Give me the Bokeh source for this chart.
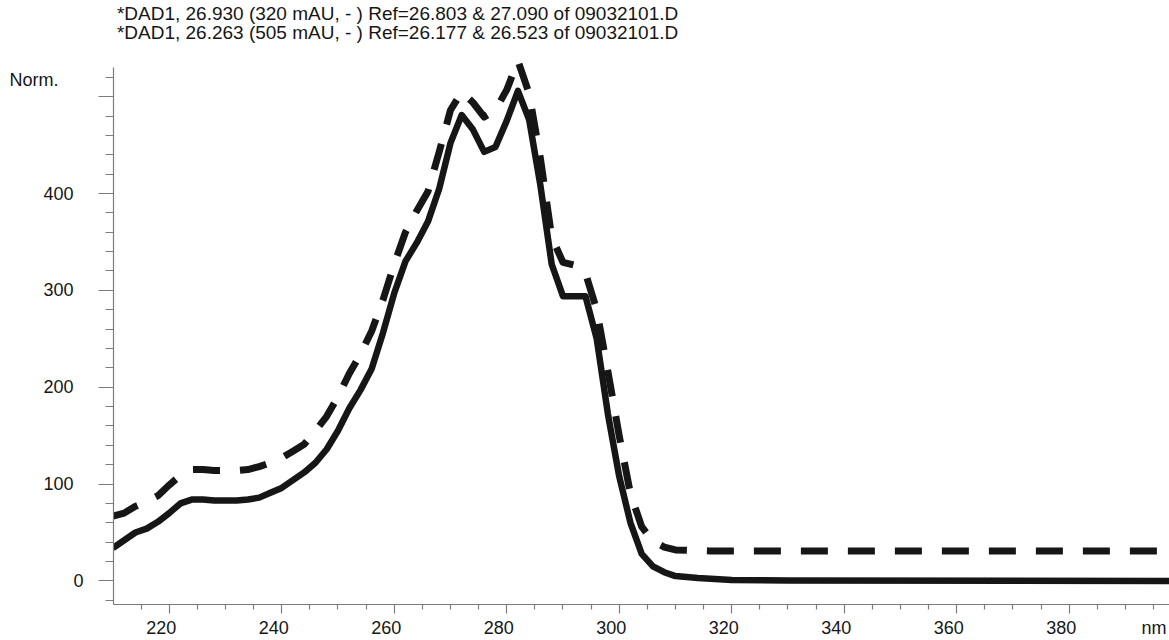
from bokeh.plotting import figure
from bokeh.models import Range1d, LinearAxis, FixedTicker, Label
from bokeh.embed import file_html
from bokeh.resources import INLINE

# ---- data ----
title_lines = [
    "*DAD1, 26.930 (320 mAU, - ) Ref=26.803 & 27.090 of 09032101.D",
    "*DAD1, 26.263 (505 mAU, - ) Ref=26.177 & 26.523 of 09032101.D",
]
y_unit_label = "Norm."
x_unit_label = "nm"

wl_solid = [210, 212, 214, 216, 218, 220, 222, 224, 226, 228, 230, 232, 234, 236,
            238, 240, 242, 244, 246, 248, 250, 252, 254, 256, 258, 260, 262, 264,
            266, 268, 270, 272, 274, 276, 278, 280, 282, 284, 286, 288, 290, 292,
            294, 296, 298, 300, 302, 304, 306, 308, 310, 314, 320, 330, 398]
abs_solid = [34, 42, 50, 54, 61, 70, 80, 84, 84, 83, 83, 83, 84, 86,
             91, 96, 104, 112, 122, 136, 155, 178, 197, 219, 256, 297, 330, 349,
             371, 405, 452, 481, 466, 443, 448, 475, 506, 476, 408, 327, 294, 294,
             294, 250, 172, 108, 60, 28, 15, 9, 5, 3, 1, 0.5, 0]

wl_dash = [210, 212, 214, 216, 218, 220, 222, 224, 226, 228, 230, 232, 234, 236,
           238, 240, 242, 244, 246, 248, 250, 252, 254, 256, 258, 260, 262, 264,
           266, 268, 270, 272, 274, 276, 278, 280, 282, 284, 286, 288, 290, 292,
           294, 296, 298, 300, 302, 304, 306, 308, 310, 316, 398]
abs_dash = [67, 70, 77, 82, 88, 99, 109, 115, 115, 114, 114, 114, 115, 118,
            122, 127, 134, 141, 155, 170, 190, 214, 234, 258, 290, 327, 360, 382,
            402, 443, 486, 505, 494, 479, 486, 507, 537, 503, 436, 355, 329, 326,
            318, 280, 216, 150, 90, 56, 41, 35, 32, 31, 31]

x_major = [220, 240, 260, 280, 300, 320, 340, 360, 380]
x_minor = [210, 215, 225, 230, 235, 245, 250, 255, 265, 270, 275, 285, 290, 295,
           305, 310, 315, 325, 330, 335, 345, 350, 355, 365, 370, 375, 385, 390, 395]
y_major = [0, 100, 200, 300, 400, 500]
y_labelled = [0, 100, 200, 300, 400]
y_minor = [-20, 20, 40, 60, 80, 120, 140, 160, 180, 220, 240, 260, 280,
           320, 340, 360, 380, 420, 440, 460, 480, 520]

# ---- layout constants ----
X0, X1 = 210.1, 397.83
Y0, Y1 = -24.35, 599.3
Y_AXIS_TOP = 530.5
LABEL_SHIFT = 1.42      # x tick labels sit ~8px left of their ticks
NM_POS = 396.5          # where the "nm" unit text sits on the label axis
NORM_POS = 517          # where the "Norm." unit text sits on the label axis
NBSP = "\u00a0"
FONT = "Liberation Sans"
INK = "#161616"
AXIS = "#7c7c7c"

# in the reference the "0" label sits ~10px further right than the other y labels
y_overrides = {v: (str(v) if v == 0 else str(v) + NBSP * 2) for v in y_labelled}
y_overrides[NORM_POS] = y_unit_label + NBSP * 5

p = figure(width=1169, height=640, x_range=Range1d(X0, X1), y_range=Range1d(Y0, Y1),
           output_backend="svg", toolbar_location=None,
           x_axis_type=None, y_axis_type=None,
           min_border_left=113, min_border_right=0, min_border_top=0, min_border_bottom=33)
p.outline_line_color = None
p.background_fill_color = "white"
p.border_fill_color = "white"

# y axis: line and ticks
yaxis = LinearAxis(ticker=FixedTicker(ticks=y_major, minor_ticks=y_minor),
                   bounds=(Y0, Y_AXIS_TOP),
                   axis_line_color=AXIS, axis_line_width=1.2,
                   major_tick_line_color=AXIS, minor_tick_line_color=AXIS,
                   major_tick_line_width=1.2, minor_tick_line_width=1.2,
                   major_tick_out=15, major_tick_in=0, minor_tick_out=8, minor_tick_in=0,
                   major_label_standoff=0, major_label_text_font_size="0px",
                   major_label_text_color=None)
p.add_layout(yaxis, "left")

# y axis: labels (plus the "Norm." unit text)
ylab = LinearAxis(ticker=FixedTicker(ticks=y_labelled + [NORM_POS], minor_ticks=[]),
                  major_label_overrides=y_overrides,
                  axis_line_color=None, major_tick_line_color=None, minor_tick_line_color=None,
                  major_tick_out=0, major_tick_in=0, minor_tick_out=0, minor_tick_in=0,
                  major_label_standoff=15,
                  major_label_text_font=FONT, major_label_text_font_size="18px",
                  major_label_text_color=INK)
p.add_layout(ylab, "left")

# x axis: line and ticks
xaxis = LinearAxis(ticker=FixedTicker(ticks=x_major, minor_ticks=x_minor),
                   bounds=(X0, X1),
                   axis_line_color=AXIS, axis_line_width=1.2,
                   major_tick_line_color=AXIS, minor_tick_line_color=AXIS,
                   major_tick_line_width=1.2, minor_tick_line_width=1.2,
                   major_tick_out=9, major_tick_in=0, minor_tick_out=5, minor_tick_in=0,
                   major_label_standoff=0, major_label_text_font_size="0px",
                   major_label_text_color=None)
p.add_layout(xaxis, "below")

# x axis: labels (plus the "nm" unit text)
p.extra_x_ranges = {"lab": Range1d(X0 + LABEL_SHIFT, X1 + LABEL_SHIFT)}
xlab = LinearAxis(x_range_name="lab", ticker=FixedTicker(ticks=x_major + [NM_POS], minor_ticks=[]),
                  major_label_overrides={NM_POS: x_unit_label},
                  axis_line_color=None, major_tick_line_color=None, minor_tick_line_color=None,
                  major_tick_out=0, major_tick_in=0, minor_tick_out=0, minor_tick_in=0,
                  major_label_standoff=4,
                  major_label_text_font=FONT, major_label_text_font_size="18px",
                  major_label_text_color=INK)
p.add_layout(xlab, "below")

# curves
p.line(wl_solid, abs_solid, line_color=INK, line_width=6.5, line_join="round")
p.line(wl_dash, abs_dash, line_color=INK, line_width=7, line_dash="27 20",
       line_cap="butt", line_join="round")

# header lines
for txt, yv in zip(title_lines, [586.0, 566.4]):
    p.add_layout(Label(x=210.7, y=yv, text=txt, text_font=FONT, text_font_size="19px",
                       text_color=INK, text_align="left", text_baseline="middle"))

open("out.html", "w").write(file_html(p, INLINE))
